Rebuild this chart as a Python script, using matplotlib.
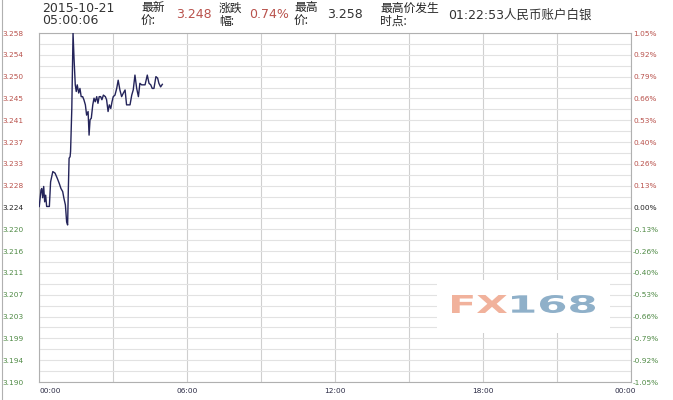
import matplotlib
matplotlib.use("Agg")
import matplotlib.pyplot as plt
from matplotlib.patches import Rectangle, PathPatch
from matplotlib.textpath import TextPath
from matplotlib.font_manager import FontProperties
from matplotlib.transforms import Affine2D
import matplotlib.transforms as mtransforms

# ---------------- data ----------------
hours = [0.01, 0.08, 0.11, 0.15, 0.19, 0.23, 0.27, 0.31, 0.42, 0.47, 0.56, 0.65, 0.74,
         0.82, 0.89, 0.96, 1.01, 1.07, 1.12, 1.16, 1.19, 1.22, 1.26, 1.28, 1.33, 1.38,
         1.42, 1.47, 1.51, 1.55, 1.61, 1.66, 1.71, 1.77, 1.82, 1.88, 1.93, 1.99, 2.03,
         2.07, 2.12, 2.18, 2.23, 2.28, 2.34, 2.39, 2.44, 2.50, 2.55, 2.61, 2.69, 2.74,
         2.80, 2.85, 2.91, 2.96, 3.01, 3.08, 3.15, 3.21, 3.28, 3.35, 3.42, 3.49, 3.55,
         3.69, 3.76, 3.82, 3.89, 3.96, 4.03, 4.09, 4.16, 4.30, 4.39, 4.46, 4.53, 4.59,
         4.66, 4.74, 4.81, 4.86, 4.93, 5.00]
prices = [3.2242, 3.2274, 3.2277, 3.2259, 3.2281, 3.2251, 3.2264, 3.2242, 3.2242, 3.2290,
          3.2310, 3.2307, 3.2297, 3.2287, 3.2277, 3.2271, 3.2258, 3.2245, 3.2212, 3.2206,
          3.2277, 3.2336, 3.2339, 3.2349, 3.2433, 3.2580, 3.2531, 3.2479, 3.2466, 3.2479,
          3.2463, 3.2472, 3.2456, 3.2456, 3.2450, 3.2440, 3.2420, 3.2427, 3.2381, 3.2411,
          3.2414, 3.2440, 3.2453, 3.2446, 3.2456, 3.2443, 3.2456, 3.2456, 3.2450, 3.2459,
          3.2456, 3.2450, 3.2427, 3.2440, 3.2433, 3.2446, 3.2456, 3.2459, 3.2472, 3.2488,
          3.2469, 3.2456, 3.2463, 3.2469, 3.2440, 3.2440, 3.2459, 3.2469, 3.2498, 3.2472,
          3.2456, 3.2482, 3.2479, 3.2479, 3.2498, 3.2482, 3.2479, 3.2472, 3.2472, 3.2495,
          3.2492, 3.2482, 3.2475, 3.2480]

price_ticks = [3.258, 3.25375, 3.2495, 3.24525, 3.241, 3.23675, 3.2325, 3.22825, 3.224,
               3.21975, 3.2155, 3.21125, 3.207, 3.20275, 3.1985, 3.19425, 3.190]
price_labels = ["3.258", "3.254", "3.250", "3.245", "3.241", "3.237", "3.233", "3.228", "3.224",
                "3.220", "3.216", "3.211", "3.207", "3.203", "3.199", "3.194", "3.190"]
pct_labels = ["1.05%", "0.92%", "0.79%", "0.66%", "0.53%", "0.40%", "0.26%", "0.13%", "0.00%",
              "-0.13%", "-0.26%", "-0.40%", "-0.53%", "-0.66%", "-0.79%", "-0.92%", "-1.05%"]
x_ticks = [0, 6, 12, 18, 24]
x_labels = ["00:00", "06:00", "12:00", "18:00", "00:00"]
prev_close = 3.224

date_str = "2015-10-21"
time_str = "05:00:06"
last_price = "3.248"
change_pct = "0.74%"
high_price = "3.258"
high_time = "01:22:53人民币账户白银"

# ---------------- style ----------------
RED = "#b9524c"
GREEN = "#4f8a45"
DARK = "#222222"
W, H = 673, 400

plt.rcParams['font.family'] = ['DejaVu Sans', 'Noto Sans CJK SC']

fig = plt.figure(figsize=(W / 100, H / 100), dpi=100)
fig.patch.set_facecolor("white")

L, R, T, B = 39, 631, 33, 382
ax = fig.add_axes([L / W, 1 - B / H, (R - L) / W, (B - T) / H])
ax.set_xlim(0, 24)
ax.set_ylim(3.190, 3.258)

# grid
minor_y = [3.190 + (3.258 - 3.190) / 32 * i for i in range(33)]
ax.set_yticks(price_ticks)
ax.set_yticks(minor_y, minor=True)
ax.set_xticks(x_ticks)
ax.set_xticks(list(range(0, 25, 3)), minor=True)
ax.grid(which='both', axis='y', color='#e2e2e2', lw=0.8)
ax.grid(which='both', axis='x', color='#cfcfcf', lw=0.8)
ax.set_axisbelow(True)
ax.tick_params(which='both', length=0)

ax.set_yticklabels(price_labels, fontsize=5.3)
ax.tick_params(axis='y', pad=11)
for lab, p in zip(ax.get_yticklabels(), price_ticks):
    lab.set_color(RED if p > prev_close + 1e-9 else (GREEN if p < prev_close - 1e-9 else DARK))

ax.set_xticklabels(x_labels, fontsize=5.3, color='#2a2a44')
ax.tick_params(axis='x', pad=4)
xl = ax.get_xticklabels()
xl[0].set_horizontalalignment('left')
xl[-1].set_transform(xl[-1].get_transform() + mtransforms.ScaledTranslation(-6 / 100, 0, fig.dpi_scale_trans))

for s in ax.spines.values():
    s.set_color('#b0b0b0')
    s.set_linewidth(0.8)

ax2 = ax.twinx()
ax2.set_ylim(3.190, 3.258)
ax2.set_yticks(price_ticks)
ax2.set_yticklabels(pct_labels, fontsize=5.3)
ax2.tick_params(length=0, pad=1.5)
for lab, p in zip(ax2.get_yticklabels(), price_ticks):
    lab.set_color(RED if p > prev_close + 1e-9 else (GREEN if p < prev_close - 1e-9 else DARK))
for s in ax2.spines.values():
    s.set_visible(False)

ax.plot(hours, prices, color='#24245a', lw=1.0, zorder=5)

# ---------------- watermark ----------------
def px(x, y):
    return x / W, 1 - y / H

rx0, ry0 = px(437, 333)
rx1, ry1 = px(610, 280)
fig.patches.append(Rectangle((rx0, ry0), rx1 - rx0, ry1 - ry0, transform=fig.transFigure,
                             facecolor='white', edgecolor='none', zorder=3))

fp = FontProperties(family='DejaVu Sans', weight='bold')
def stretched(s, x0, x1, ytop, ybot, color):
    tp = TextPath((0, 0), s, size=10, prop=fp)
    bb = tp.get_extents()
    y0 = (H - ybot) / 100
    y1 = (H - ytop) / 100
    tr = (Affine2D().translate(-bb.x0, -bb.y0)
          .scale((x1 - x0) / 100 / bb.width, (y1 - y0) / bb.height)
          .translate(x0 / 100, y0))
    path = tr.transform_path(tp)
    fig.patches.append(PathPatch(path, facecolor=color, edgecolor='none',
                                 transform=fig.dpi_scale_trans, zorder=4))

stretched("FX", 452, 507, 295, 313, '#f1b29c')
stretched("168", 512, 595, 295, 313, '#8fb0c9')

# left frame line
fig.add_artist(plt.Line2D([2 / W, 2 / W], [0, 1], color='#b0b0b0', lw=0.8))

# ---------------- header ----------------
def ftext(x, y, s, color=DARK, size=9, **kw):
    fx, fy = px(x, y)
    fig.text(fx, fy, s, color=color, fontsize=size, va='center', ha='left', **kw)

ftext(42, 8, date_str, color='#333333')
ftext(42, 21, time_str, color='#333333')
ftext(141, 8, "最新", size=8.5, family=['Noto Sans CJK SC'])
ftext(141, 21, "价:", size=8.5, family=['Noto Sans CJK SC'])
ftext(176, 15, last_price, color=RED)
ftext(219, 8, "涨跌", size=8.5, family=['Noto Sans CJK SC'])
ftext(219, 21, "幅:", size=8.5, family=['Noto Sans CJK SC'])
ftext(249, 15, change_pct, color=RED)
ftext(294, 8, "最高", size=8.5, family=['Noto Sans CJK SC'])
ftext(294, 21, "价:", size=8.5, family=['Noto Sans CJK SC'])
ftext(327, 15, high_price, color='#333333')
ftext(380, 8, "最高价发生", size=8.5, family=['Noto Sans CJK SC'])
ftext(380, 21, "时点:", size=8.5, family=['Noto Sans CJK SC'])
ftext(448, 15, high_time, color='#333333', size=9)

fig.savefig("out.png", dpi=100, facecolor='white')
